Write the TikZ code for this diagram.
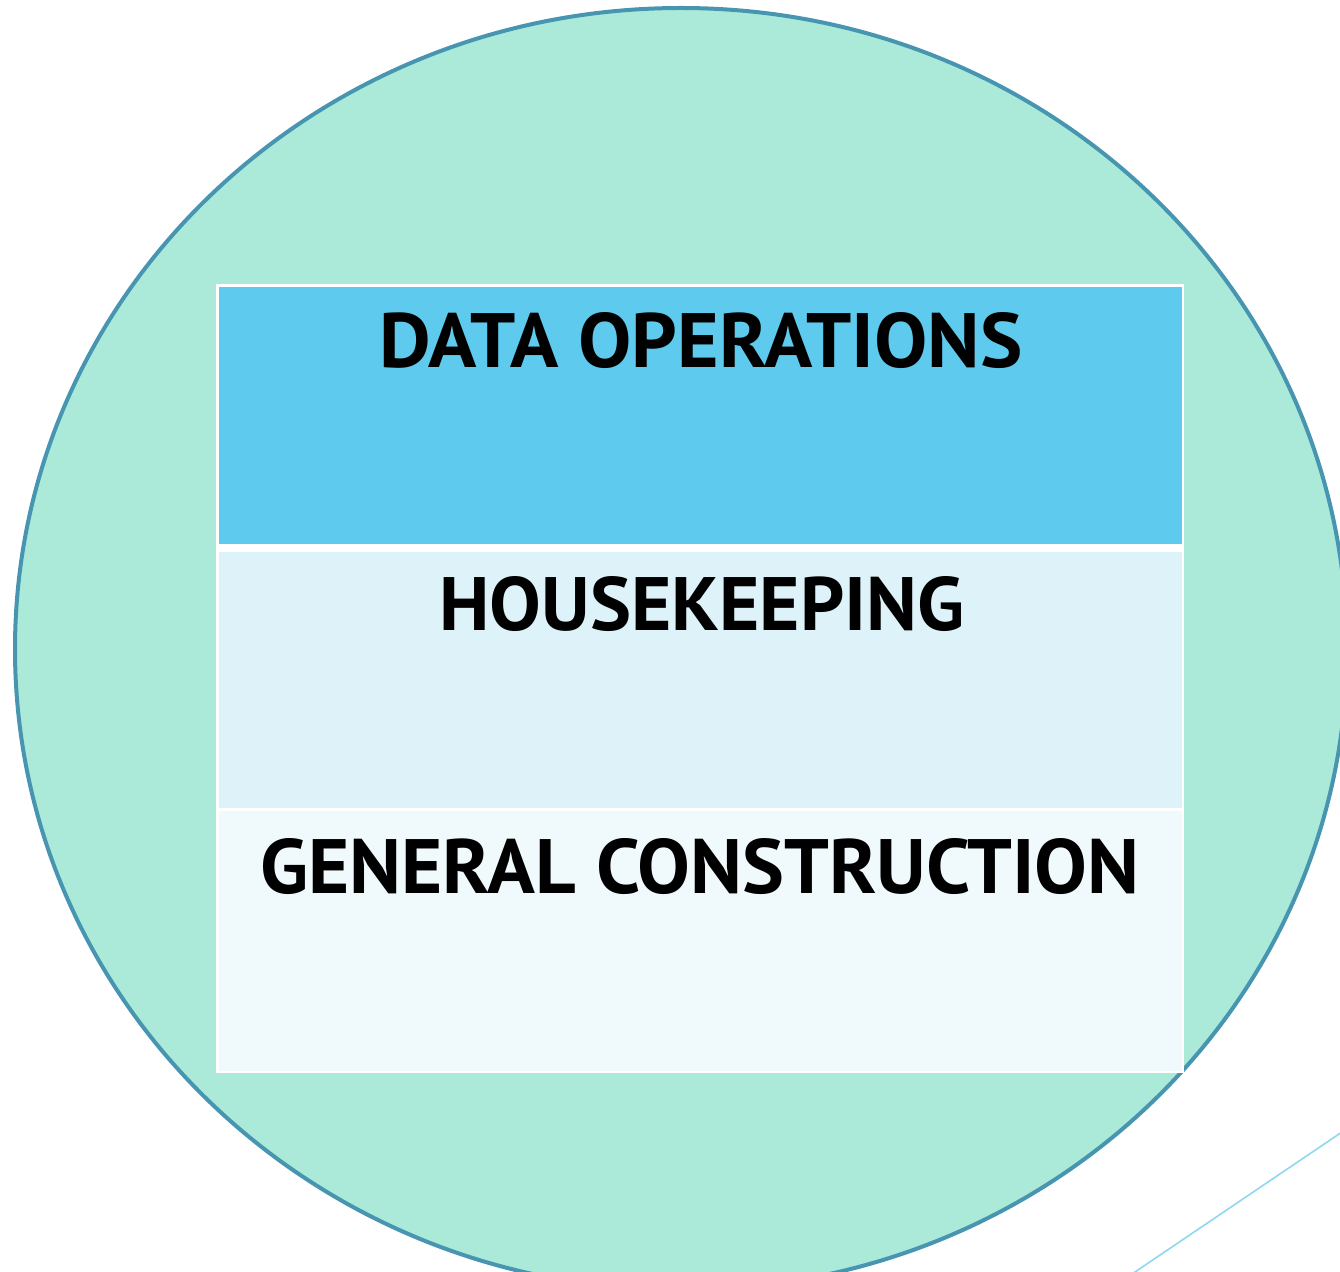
\documentclass[tikz,border=0pt]{standalone}
\usepackage{fontspec}
\setmainfont{PT Sans}
\usepackage{graphicx}
\newlength\pxu
\setlength\pxu{0.5pt}
\definecolor{discfill}{HTML}{ABEAD8}
\definecolor{discline}{HTML}{4795B1}
\definecolor{rowA}{HTML}{5ECAEE}
\definecolor{rowB}{HTML}{DDF3F9}
\definecolor{rowC}{HTML}{F0F9FC}
\definecolor{thinline}{HTML}{8DD8EE}
\tikzset{
  cellbox/.style={draw=none, inner sep=0, minimum width=963\pxu, anchor=north west},
  label/.style={inner sep=0, anchor=base west, text=black},
}
\newcommand{\celltext}[3]{\resizebox{#1\pxu}{#2\pxu}{\bfseries #3}}
\begin{document}
\begin{tikzpicture}[x=0.5pt,y=-0.5pt]
  \useasboundingbox (0,0) rectangle (1340,1272);
  \clip (0,0) rectangle (1340,1272);
  % background disc
  \draw[fill=discfill, draw=discline, line width=2pt] (681,649) ellipse [x radius=666, y radius=641];
  % decorative line, lower right
  \coordinate (lineA) at (1132,1274);
  \coordinate (lineB) at (1342,1132);
  \draw[thinline, line width=0.8pt] (lineA) -- (lineB);
  % table frame and rows
  \node[cellbox, fill=white, minimum width=968\pxu, minimum height=789\pxu] (frame) at (216,284) {};
  \node[cellbox, fill=rowA, minimum height=257\pxu] (rowone) at (219,287) {};
  \node[cellbox, fill=rowB, minimum height=256\pxu] (rowtwo) at (219,552) {};
  \node[cellbox, fill=rowC, minimum height=260\pxu] (rowthree) at (219,811) {};
  % labels
  \node[label] (t1) at (379,368) {\celltext{643}{55}{DATA OPERATIONS}};
  \node[label] (t2) at (439,631) {\celltext{525}{54}{HOUSEKEEPING}};
  \node[label] (t3) at (260,893) {\celltext{879}{55}{GENERAL CONSTRUCTION}};
\end{tikzpicture}
\end{document}
